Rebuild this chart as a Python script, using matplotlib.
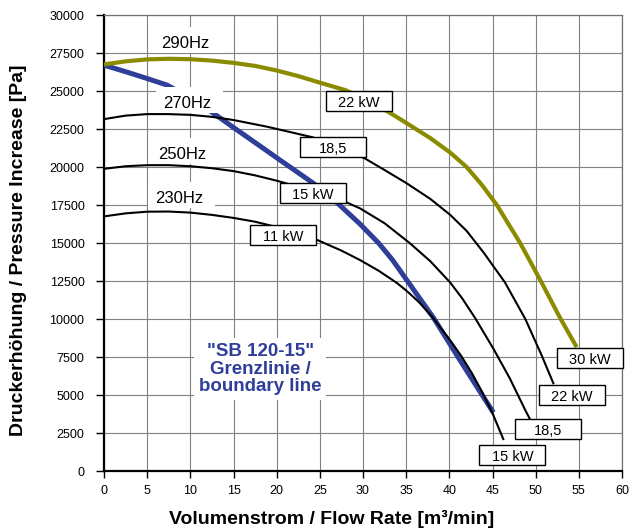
import matplotlib
matplotlib.use("Agg")
import matplotlib.pyplot as plt
import matplotlib.transforms as mtransforms
from matplotlib.patches import Rectangle

plt.rcParams['font.family'] = ['Liberation Sans', 'DejaVu Sans']

# ---- data ----
q_290 = [0, 2.5, 5, 7.5, 10, 12.5, 15, 17.5, 20, 22.5, 25, 28, 30, 32.9, 35, 37.8, 40.1, 42, 43.8, 45.5, 48.2, 50.5, 52.8, 54.75]
p_290 = [26750, 26950, 27080, 27120, 27090, 27000, 26850, 26650, 26350, 25980, 25550, 25050, 24500, 23640, 22900, 21900, 20950, 20000, 18800, 17500, 15000, 12600, 10100, 8150]

q_270 = [0, 2.5, 5, 7.5, 10, 12.5, 15, 18.9, 24.2, 27, 30.2, 32.5, 35, 37.8, 40.1, 42, 44, 46.45, 48.8, 50.7, 52.05]
p_270 = [23150, 23380, 23480, 23480, 23430, 23300, 23090, 22650, 21950, 21350, 20570, 19800, 18950, 17900, 16850, 15800, 14350, 12400, 10000, 7600, 5770]

q_250 = [0, 2.5, 5, 7.5, 10, 12.5, 15, 17.5, 20, 22.5, 25, 27.9, 29.65, 32.5, 35.4, 37.8, 40.1, 41.5, 43, 45.1, 47, 48.8, 49.35]
p_250 = [19880, 20050, 20120, 20120, 20050, 19920, 19730, 19450, 19100, 18700, 18250, 17720, 17280, 16300, 15000, 13800, 12400, 11350, 10050, 8050, 6100, 4000, 3400]

q_230 = [0, 2.5, 5, 7.5, 10, 12.5, 15, 17.5, 20, 24.5, 27.5, 29.65, 31.8, 33.9, 35.06, 36.5, 38, 40.1, 41.4, 42.6, 43.75, 45, 46.25]
p_230 = [16750, 16950, 17060, 17070, 17000, 16850, 16650, 16400, 16050, 15250, 14500, 13880, 13180, 12380, 11850, 11100, 10150, 8600, 7550, 6450, 5250, 3800, 2100]

q_limit = [0, 2.5, 5, 7.3, 10, 11.9, 15, 18.9, 20.4, 24.2, 27, 29.65, 31.8, 33.4, 35.06, 38.2, 41.0, 43.8, 45.1]
p_limit = [26700, 26270, 25820, 25390, 24550, 23850, 22600, 21050, 20450, 18950, 17650, 16250, 15000, 13900, 12570, 10050, 7500, 5000, 3850]

freq_labels = ["290Hz", "270Hz", "250Hz", "230Hz"]
freq_label_q = [9.4, 9.6, 9.1, 8.7]
freq_label_p = [28140, 24190, 20850, 17960]

mid_power = ["22 kW", "18,5", "15 kW", "11 kW"]
mid_power_q = [29.5, 26.5, 24.2, 20.7]
mid_power_p = [24320, 21300, 18270, 15530]

end_power = ["30 kW", "22 kW", "18,5", "15 kW"]
end_power_q = [56.26, 54.2, 51.4, 47.3]
end_power_p = [7450, 5020, 2750, 1070]

x_ticks = list(range(0, 61, 5))
y_ticks = list(range(0, 30001, 2500))

# ---- figure ----
fig = plt.figure(figsize=(6.32, 5.29), dpi=100)
ax = fig.add_axes([104/632, (529-471)/529, (622-104)/632, (471-15)/529])
ax.set_xlim(0, 60)
ax.set_ylim(0, 30000)
ax.set_xticks(x_ticks)
ax.set_yticks(y_ticks)
ax.tick_params(axis='x', direction='out', length=5, width=1, labelsize=9, pad=5)
ax.tick_params(axis='y', direction='out', length=6, width=1, labelsize=9, pad=8)
ax.grid(True, color='#808080', linewidth=0.8)
ax.set_axisbelow(True)
for s in ['left', 'bottom']:
    ax.spines[s].set_color('black')
    ax.spines[s].set_linewidth(1.6)
for s in ['top', 'right']:
    ax.spines[s].set_color('#707070')
    ax.spines[s].set_linewidth(0.9)

olive = '#8b8b00'
blue = '#2f3f99'

ax.plot(q_290, p_290, color=olive, lw=3.0, solid_capstyle='butt', solid_joinstyle='round', zorder=4)
ax.plot(q_270, p_270, color='black', lw=1.5, solid_joinstyle='round', zorder=4)
ax.plot(q_250, p_250, color='black', lw=1.5, solid_joinstyle='round', zorder=4)
ax.plot(q_230, p_230, color='black', lw=1.5, solid_joinstyle='round', zorder=4)
ax.plot(q_limit, p_limit, color=blue, lw=3.6, solid_capstyle='butt', solid_joinstyle='round', zorder=3)

for t, q, p in zip(freq_labels, freq_label_q, freq_label_p):
    tr = fig.dpi_scale_trans + mtransforms.ScaledTranslation(q, p, ax.transData)
    ax.add_patch(Rectangle((-0.31, -0.10), 0.67, 0.26, transform=tr, fc='white',
                           ec='none', zorder=3.5))
    ax.text(q, p, t, fontsize=12, ha='center', va='center', zorder=6)

def power_box(text, q, p):
    tr = fig.dpi_scale_trans + mtransforms.ScaledTranslation(q, p, ax.transData)
    r = Rectangle((-0.33, -0.10), 0.66, 0.20, transform=tr, fc='white', ec='black',
                  lw=1.0, zorder=7, clip_on=False)
    ax.add_patch(r)
    ax.text(q, p, text, fontsize=10.5, ha='center', va='center', zorder=8,
            transform=ax.transData + mtransforms.ScaledTranslation(0, -0.02, fig.dpi_scale_trans),
            clip_on=False)

for t, q, p in zip(mid_power, mid_power_q, mid_power_p):
    power_box(t, q, p)
for t, q, p in zip(end_power, end_power_q, end_power_p):
    power_box(t, q, p)

ax.text(18.1, 6710, '"SB 120-15"\nGrenzlinie /\nboundary line', fontsize=13.5,
        fontweight='bold', color=blue, ha='center', va='center', linespacing=1.05,
        zorder=6, bbox=dict(boxstyle='square,pad=0.25', fc='white', ec='none'))

ax.set_xlabel('Volumenstrom / Flow Rate [m³/min]', fontsize=14, fontweight='bold')
ax.set_ylabel('Druckerhöhung / Pressure Increase [Pa]', fontsize=14, fontweight='bold')
ax.xaxis.label.set_va('center')
ax.xaxis.set_label_coords(0.44, -0.105)
ax.yaxis.label.set_va('center')
ax.yaxis.label.set_ha('center')
ax.yaxis.set_label_coords(-0.166, 0.485)

fig.savefig('out.png', dpi=100)
